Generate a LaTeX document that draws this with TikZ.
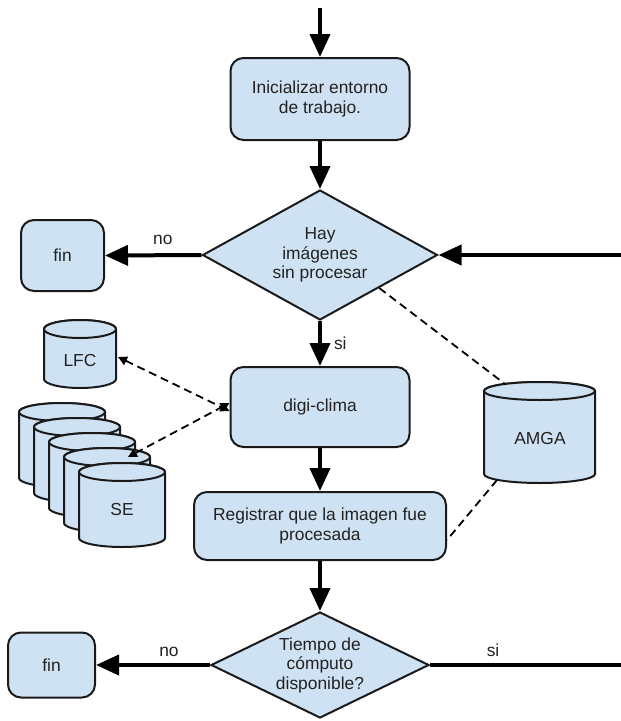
\documentclass[tikz,border=0pt]{standalone}
\usepackage{fontspec}
\setmainfont{Liberation Sans}
\usetikzlibrary{shapes.geometric,arrows.meta}
\definecolor{cfill}{HTML}{CFE2F3}
\definecolor{cline}{HTML}{1A1A1A}
\definecolor{ctext}{HTML}{222222}
\newcommand{\mycyl}[5]{%
  \filldraw[cylstyle] (#1,#2) -- (#1,#4) arc[start angle=180,end angle=0,x radius=#3,y radius=#5]
    -- ({#1+2*#3},#2) arc[start angle=0,end angle=-180,x radius=#3,y radius=#5] -- cycle;
  \draw[cylstyle] ({#1+#3},#2) ellipse[x radius=#3,y radius=#5];
}
\begin{document}
\begin{tikzpicture}[x=1pt,y=-1pt,
  txt/.style={font=\fontsize{17.4}{19.5}\selectfont, text=ctext, align=center},
  box/.style={txt, draw=cline, fill=cfill, line width=2pt, rounded corners=13pt, inner sep=0pt},
  dia/.style={txt, draw=cline, fill=cfill, line width=2pt, diamond, inner sep=0pt},
  cylstyle/.style={draw=cline, fill=cfill, line width=2pt},
  flow/.style={draw=black, line width=4pt, -{Triangle[length=23pt,width=20pt]}},
  plain/.style={draw=black, line width=4pt},
  dlink/.style={draw=black, line width=1.8pt, dash pattern=on 8pt off 5pt},
  darrow/.style={dlink, {Triangle[length=9pt,width=9pt]}-{Triangle[length=9pt,width=9pt]}},
  lbl/.style={txt, inner sep=0pt}
]
\useasboundingbox (0,0) rectangle (621,721);

% cylinders
\mycyl{44}{329}{36}{379}{9}
\node[lbl] (lfc) at (80,361) {LFC};
\mycyl{484}{391}{55.5}{474}{9}
\node[lbl] (amga) at (540,439) {AMGA};
\foreach \i in {0,...,4}{
  \mycyl{19+15*\i}{412+15*\i}{43}{478+15*\i}{9}
}
\node[lbl] (se) at (122,510) {SE};

% flow nodes
\node[box, minimum width=179pt, minimum height=82pt] (init) at (320,99) {Inicializar entorno\\de trabajo.};
\node[dia, minimum width=235pt, minimum height=130pt, aspect=1.8] (d1) at (320,255) {Hay\\imágenes\\sin procesar};
\node[box, minimum width=83pt, minimum height=71pt] (fin1) at (62.5,255.5) {fin};
\node[box, minimum width=179pt, minimum height=80pt] (digi) at (320,407) {digi-clima};
\node[box, minimum width=252pt, minimum height=68pt] (reg) at (320,526) {Registrar que la imagen fue\\procesada};
\node[dia, minimum width=218pt, minimum height=106pt, aspect=2.05] (d2) at (320,665) {Tiempo de\\cómputo\\disponible?};
\node[box, minimum width=87pt, minimum height=65pt] (fin2) at (51.5,665) {fin};

% free ends
\coordinate (topin) at (320,8);
\coordinate (rightin) at (621,255);
\coordinate (rightout) at (621,665);
\coordinate (lfcport) at (118,357);
\coordinate (seport) at (128,457);
\coordinate (amgatop) at (505,384);
\coordinate (amgabot) at (497,480);

% flow connectors
\draw[flow] (topin) -- (init.north);
\draw[flow] (init.south) -- (d1.north);
\draw[flow] (d1.west) -- (fin1.east) node[lbl, pos=0.4, above=9pt] (no1) {no};
\draw[flow] (rightin) -- (d1.east);
\draw[flow] (d1.south) -- (digi.north) node[lbl, midway, right=12pt] (si1) {si};
\draw[flow] (digi.south) -- (reg.north);
\draw[flow] (reg.south) -- (d2.north);
\draw[flow] (d2.west) -- (fin2.east) node[lbl, pos=0.36, above=6pt] (no2) {no};
\draw[plain] (d2.east) -- (rightout) node[lbl, pos=0.33, above=6pt] (si2) {si};

% dashed links
\draw[darrow] (lfcport) -- ([yshift=-4pt]digi.west);
\draw[darrow] (seport) -- ([yshift=4pt]digi.west);
\draw[dlink] (d1.south east) -- (amgatop);
\draw[dlink] (amgabot) -- ([yshift=-14pt]reg.east);
\end{tikzpicture}
\end{document}
